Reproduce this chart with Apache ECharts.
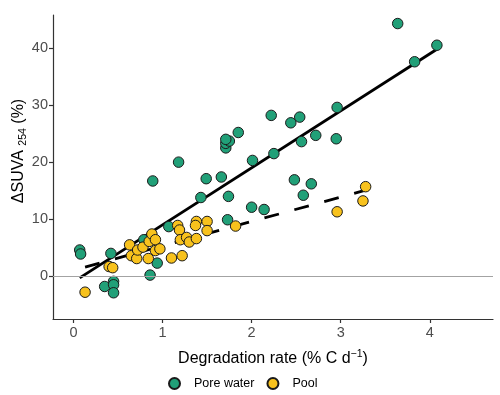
<!DOCTYPE html>
<html>
<head>
<meta charset="utf-8">
<script src="https://cdn.jsdelivr.net/npm/echarts@6/dist/echarts.min.js"></script>
<style>
html, body { margin: 0; padding: 0; background: #fff; }
#chart { width: 500px; height: 395px; }
</style>
</head>
<body>
<div id="chart"></div>
<script>
// 孔隙水 (Pore water): 降解速率 (% C d-1) / ΔSUVA254 (%)
var poreRate = [0.07, 0.08, 0.42, 0.35, 0.45, 0.45, 0.45, 0.86, 0.94, 0.79,
                1.07, 0.89, 1.18, 1.43, 1.49, 1.66, 1.74, 1.73, 1.71, 1.71,
                1.75, 1.71, 1.85, 2.01, 2.00, 2.14, 2.22, 2.25, 2.44, 2.54,
                2.48, 2.56, 2.58, 2.67, 2.72, 2.95, 2.96, 3.64, 3.83, 4.08];
var poreSuva = [4.6, 3.9, 4.0, -1.8, -0.9, -1.5, -2.9, 0.2, 2.3, 6.4,
                8.7, 16.7, 20.0, 13.8, 17.1, 17.4, 14.0, 9.9, 22.5, 23.3,
                23.7, 24.0, 25.2, 20.3, 12.1, 11.7, 28.2, 21.5, 26.9, 27.9,
                16.9, 23.6, 14.2, 16.2, 24.7, 24.1, 29.6, 44.3, 37.6, 40.5];

// 水塘 (Pool)
var poolRate = [0.13, 0.40, 0.44, 0.63, 0.65, 0.71, 0.72, 0.78, 0.84, 0.85,
                0.88, 0.92, 0.92, 0.97, 1.10, 1.22, 1.17, 1.19, 1.20, 1.27,
                1.30, 1.38, 1.37, 1.38, 1.50, 1.50, 1.82, 2.96, 3.25, 3.28];
var poolSuva = [-2.8, 1.7, 1.5, 5.5, 3.6, 3.1, 4.6, 5.1, 3.1, 6.1,
                7.4, 6.4, 4.5, 4.8, 3.2, 3.6, 8.9, 8.1, 6.4, 6.8,
                6.0, 9.6, 8.9, 6.6, 9.6, 8.0, 8.8, 11.3, 13.2, 15.7];

// 刻度
var xTicks = [0, 1, 2, 3, 4];
var yTicks = [0, 10, 20, 30, 40];

// 回归线 [截距, 斜率]
var poreFit = [-1.0, 10.0];
var poolFit = [1.04, 4.28];

function zip(a, b) {
    return a.map(function (v, i) { return [v, b[i]]; });
}
function fitLine(xs, fit) {
    var lo = Math.min.apply(null, xs), hi = Math.max.apply(null, xs);
    return [[lo, fit[0] + fit[1] * lo], [hi, fit[0] + fit[1] * hi]];
}

var FONT = 'Liberation Sans';
var chart = echarts.init(document.getElementById('chart'));

var option = {
    animation: false,
    textStyle: { fontFamily: FONT },
    grid: { left: 53, right: 7, top: 15, bottom: 76 },
    legend: {
        data: ['Pore water', 'Pool'],
        left: 163, top: 372,
        icon: 'circle',
        itemWidth: 11, itemHeight: 11,
        itemGap: 12,
        textStyle: { fontSize: 12.5, color: '#000', fontFamily: FONT, padding: [0, 0, 0, 9] }
    },
    xAxis: {
        type: 'value',
        min: -0.23, max: 4.71,
        name: '{t|Degradation rate (% C d}{s|\u22121}{t|)}',
        nameLocation: 'middle',
        nameGap: 30,
        nameTextStyle: {
            rich: {
                t: { fontSize: 16, color: '#000', fontFamily: FONT, lineHeight: 18, verticalAlign: 'bottom' },
                s: { fontSize: 10.5, color: '#000', fontFamily: FONT, lineHeight: 18, verticalAlign: 'top' }
            }
        },
        splitLine: { show: false },
        axisLine: { onZero: false, lineStyle: { color: '#333', width: 1.2 } },
        axisTick: { customValues: xTicks, length: 4, lineStyle: { color: '#333', width: 1.2 } },
        axisLabel: { customValues: xTicks, fontSize: 14.5, color: '#4d4d4d', margin: 6 }
    },
    yAxis: {
        type: 'value',
        min: -7.5, max: 45.8,
        splitLine: { show: false },
        axisLine: { onZero: false, lineStyle: { color: '#333', width: 1.2 } },
        axisTick: { customValues: yTicks, length: 4, lineStyle: { color: '#333', width: 1.2 } },
        axisLabel: { customValues: yTicks, fontSize: 14.5, color: '#4d4d4d', margin: 5 }
    },
    graphic: [{
        type: 'text',
        x: 20, y: 151,
        rotation: Math.PI / 2,
        style: {
            text: '{t|\u0394SUVA }{s|254}{t| (%)}',
            align: 'center', verticalAlign: 'middle',
            rich: {
                t: { fontSize: 16, fill: '#000', fontFamily: FONT, lineHeight: 18, verticalAlign: 'top' },
                s: { fontSize: 10.5, fill: '#000', fontFamily: FONT, lineHeight: 18, verticalAlign: 'bottom' }
            }
        }
    }],
    series: [
        {
            name: 'poolFit',
            type: 'line',
            data: fitLine(poolRate, poolFit),
            symbol: 'none',
            z: 1,
            lineStyle: { color: '#000', width: 2.8, type: [15, 16] },
            markLine: {
                silent: true,
                symbol: 'none',
                label: { show: false },
                lineStyle: { color: '#a3a3a3', width: 1.2, type: 'solid' },
                data: [{ yAxis: 0 }]
            }
        },
        {
            name: 'poreFit',
            type: 'line',
            data: fitLine(poreRate, poreFit),
            symbol: 'none',
            z: 2,
            lineStyle: { color: '#000', width: 2.8 }
        },
        {
            name: 'Pore water',
            type: 'scatter',
            data: zip(poreRate, poreSuva),
            symbolSize: 10.5,
            z: 3,
            itemStyle: { color: '#21a078', borderColor: '#1a1a1a', borderWidth: 1, opacity: 1 }
        },
        {
            name: 'Pool',
            type: 'scatter',
            data: zip(poolRate, poolSuva),
            symbolSize: 10.5,
            z: 4,
            itemStyle: { color: '#f8c21d', borderColor: '#1a1a1a', borderWidth: 1, opacity: 1 }
        }
    ]
};

chart.setOption(option);
</script>
</body>
</html>
